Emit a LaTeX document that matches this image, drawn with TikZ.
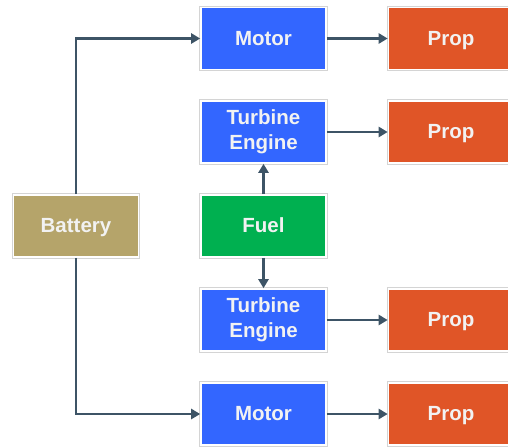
\documentclass[tikz,border=0pt]{standalone}
\usepackage{fontspec}
\setmainfont{Liberation Sans}
\usetikzlibrary{arrows.meta}
\definecolor{mblue}{HTML}{3366FF}
\definecolor{morange}{HTML}{E05527}
\definecolor{mgreen}{HTML}{00B050}
\definecolor{mbat}{HTML}{B5A46A}
\definecolor{mline}{HTML}{3D5466}
\definecolor{mtext}{HTML}{F2F2F2}
\definecolor{mgrey}{HTML}{D4D4D4}
\tikzset{
  box/.style={rectangle, minimum width=125pt, minimum height=62pt, inner sep=0pt,
    draw=white, line width=1.6pt,
    preaction={draw=mgrey, line width=3.4pt},
    text=mtext, align=center,
    font=\fontsize{20.5}{25}\selectfont\bfseries},
  oneline/.style={box, text height=15pt, text depth=2pt},
  conn/.style={draw=mline, line width=2.4pt, -{Triangle[length=9pt,width=10pt]}},
}
\begin{document}
\begin{tikzpicture}[x=1pt,y=-1pt]
\useasboundingbox (0,0) rectangle (508,447);
\node[oneline, fill=mblue] (m1) at (263.5,38.5) {Motor};
\node[oneline, fill=morange] (p1) at (451,38.5) {Prop};
\node[box, fill=mblue] (t1) at (263.5,132) {Turbine\\Engine};
\node[oneline, fill=morange] (p2) at (451,132) {Prop};
\node[oneline, fill=mbat] (bat) at (76,226) {Battery};
\node[oneline, fill=mgreen] (fuel) at (263.5,226) {Fuel};
\node[box, fill=mblue] (t2) at (263.5,320) {Turbine\\Engine};
\node[oneline, fill=morange] (p3) at (451,320) {Prop};
\node[oneline, fill=mblue] (m2) at (263.5,414) {Motor};
\node[oneline, fill=morange] (p4) at (451,414) {Prop};
\draw[conn] (m1) -- (p1);
\draw[conn] (t1) -- (p2);
\draw[conn] (t2) -- (p3);
\draw[conn] (m2) -- (p4);
\draw[conn] (fuel) -- (t1);
\draw[conn] (fuel) -- (t2);
\draw[conn] (bat.north) |- (m1.west);
\draw[conn] (bat.south) |- (m2.west);
\end{tikzpicture}
\end{document}
